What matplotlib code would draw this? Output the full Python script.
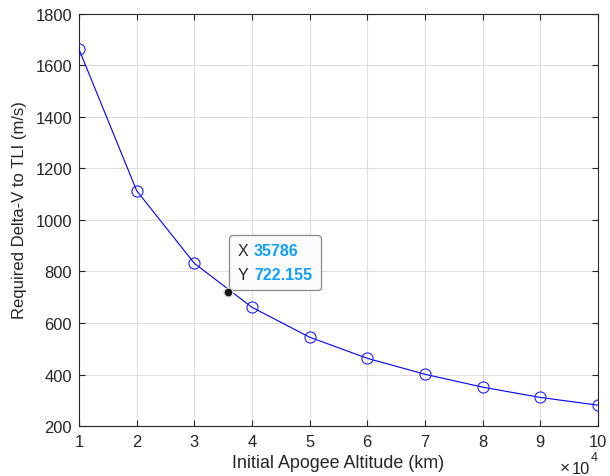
import matplotlib
matplotlib.use("Agg")
import matplotlib.pyplot as plt
from matplotlib.offsetbox import TextArea, HPacker, VPacker, AnnotationBbox

plt.rcParams['font.family'] = ['Liberation Sans', 'DejaVu Sans']

apogee_km = [10000, 20000, 30000, 40000, 50000, 60000, 70000, 80000, 90000, 100000]
delta_v = [1663, 1114, 832, 661, 545, 463, 401, 351, 311, 281]
tip_x = 35786
tip_y = 722.155
xtick_vals = [10000, 20000, 30000, 40000, 50000, 60000, 70000, 80000, 90000, 100000]
xtick_labels = ['1', '2', '3', '4', '5', '6', '7', '8', '9', '10']
ytick_vals = [200, 400, 600, 800, 1000, 1200, 1400, 1600, 1800]

fig = plt.figure(figsize=(6.1, 4.77), dpi=100)
ax = fig.add_axes([0.1295, 0.1048, 0.8505, 0.8638])

ax.plot(apogee_km, delta_v, '-o', color='#0000ff', lw=0.8, ms=8,
        mfc='none', mec='#2222ff', mew=0.8, zorder=3)
ax.plot([tip_x], [tip_y], 'o', color='#151515', ms=6.5, mec='#dcdcdc', mew=1.0, zorder=6)

ax.set_xlim(10000, 100000)
ax.set_ylim(200, 1800)
ax.set_xticks(xtick_vals)
ax.set_xticklabels(xtick_labels)
ax.set_yticks(ytick_vals)

ax.grid(True, color='#dedede', lw=0.8)
ax.set_axisbelow(True)
for s in ax.spines.values():
    s.set_color('#262626')
    s.set_linewidth(0.8)
ax.tick_params(direction='in', length=4, width=0.8, colors='#262626',
               labelsize=11.9, top=True, right=True, labeltop=False, labelright=False, pad=5)
ax.tick_params(axis='x', pad=6)

ax.set_xlabel('Initial Apogee Altitude (km)', fontsize=12.9, color='#262626', labelpad=3)
ax.set_ylabel('Required Delta-V to TLI (m/s)', fontsize=12, color='#262626')
ax.yaxis.set_label_coords(-0.100, 0.527)

# x10^4 exponent label
ax.text(0.985, -0.114, '10', transform=ax.transAxes, ha='right', va='baseline',
        fontsize=11.9, color='#262626')
ax.text(0.947, -0.112, '×', transform=ax.transAxes, ha='right', va='baseline',
        fontsize=12.5, color='#262626', fontweight='light')
ax.text(0.987, -0.083, '4', transform=ax.transAxes, ha='left', va='baseline',
        fontsize=9, color='#262626')

tcol = '#262626'
bcol = '#0fa0ff'
fs = 11.5
rowx = HPacker(children=[TextArea('X', textprops=dict(color=tcol, fontsize=fs)),
                         TextArea('35786', textprops=dict(color=bcol, fontsize=fs, fontweight='bold'))],
               align='baseline', pad=0, sep=4)
rowy = HPacker(children=[TextArea('Y', textprops=dict(color=tcol, fontsize=fs)),
                         TextArea(f'{tip_y:.3f}', textprops=dict(color=bcol, fontsize=fs, fontweight='bold'))],
               align='baseline', pad=0, sep=4)
box = VPacker(children=[rowx, rowy], align='left', pad=0, sep=6)
ab = AnnotationBbox(box, (tip_x, tip_y), xybox=(7.3, 7.0), boxcoords='offset points',
                    box_alignment=(0, 0), frameon=True, pad=0.6,
                    bboxprops=dict(boxstyle='round,pad=0.6,rounding_size=0.25',
                                   fc='#fbfbfd', ec='#8a8a8a', lw=0.9))
ab.set_zorder(5)
ax.add_artist(ab)

fig.savefig('out.png', dpi=100, facecolor='white')
